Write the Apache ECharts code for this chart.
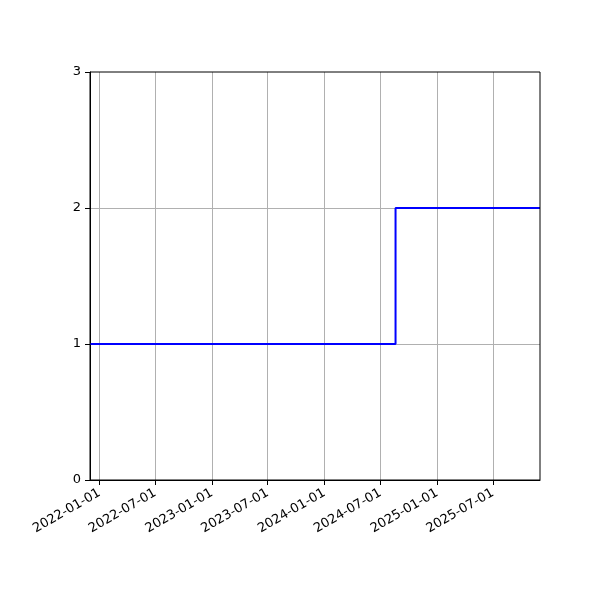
<!DOCTYPE html>
<html>
<head>
<meta charset="utf-8">
<script src="https://cdn.jsdelivr.net/npm/echarts@6/dist/echarts.min.js"></script>
<style>html,body{margin:0;padding:0;background:#fff}#c{width:600px;height:600px}</style>
</head>
<body>
<div id="c"></div>
<script>
const dates = ['2021-12-01', '2024-08-19', '2025-12-01'];
const values = [1, 2, 2];
const xTickLabels = ['2022-01-01','2022-07-01','2023-01-01','2023-07-01','2024-01-01','2024-07-01','2025-01-01','2025-07-01'];
const yTicks = [0, 1, 2, 3];
const xMin = '2021-12-01';
const xMax = '2025-12-01';

const ts = s => new Date(s + 'T00:00:00Z').getTime();
const tickTs = xTickLabels.map(ts);
const chart = echarts.init(document.getElementById('c'), null, {renderer: 'canvas'});
const font = 'DejaVu Sans';
const fmt = v => { const d = new Date(v); const p = n => String(n).padStart(2, '0'); return d.getUTCFullYear() + '-' + p(d.getUTCMonth() + 1) + '-' + p(d.getUTCDate()); };
chart.setOption({
  animation: false,
  grid: {left: 90, right: 60, top: 72, bottom: 120, show: true, borderColor: '#000', borderWidth: 1, containLabel: false, z: 10},
  xAxis: {
    type: 'value',
    min: ts(xMin), max: ts(xMax),
    axisLine: {show: true, lineStyle: {color: '#000', width: 1}},
    axisTick: {show: true, customValues: tickTs, length: 5, lineStyle: {color: '#000'}},
    axisLabel: {show: true, customValues: tickTs, rotate: 30, color: '#000', fontFamily: font, fontSize: 13, margin: 12, formatter: fmt},
    splitLine: {show: false}
  },
  yAxis: {
    type: 'value', min: yTicks[0], max: yTicks[yTicks.length - 1], interval: 1,
    axisLine: {show: true, lineStyle: {color: '#000', width: 1}},
    axisTick: {show: true, length: 5, lineStyle: {color: '#000'}},
    axisLabel: {color: '#000', fontFamily: font, fontSize: 13, margin: 9},
    splitLine: {show: true, showMinLine: false, showMaxLine: false, lineStyle: {color: '#b0b0b0', width: 1}}
  },
  series: [{
    type: 'line',
    step: 'end',
    showSymbol: false,
    data: dates.map((d, i) => [ts(d), values[i]]),
    lineStyle: {color: '#0000ff', width: 2},
    z: 5,
    markLine: {
      silent: true, symbol: 'none', label: {show: false},
      lineStyle: {color: '#b0b0b0', width: 1, type: 'solid'},
      data: tickTs.map(t => ({xAxis: t}))
    }
  }]
});
</script>
</body>
</html>
